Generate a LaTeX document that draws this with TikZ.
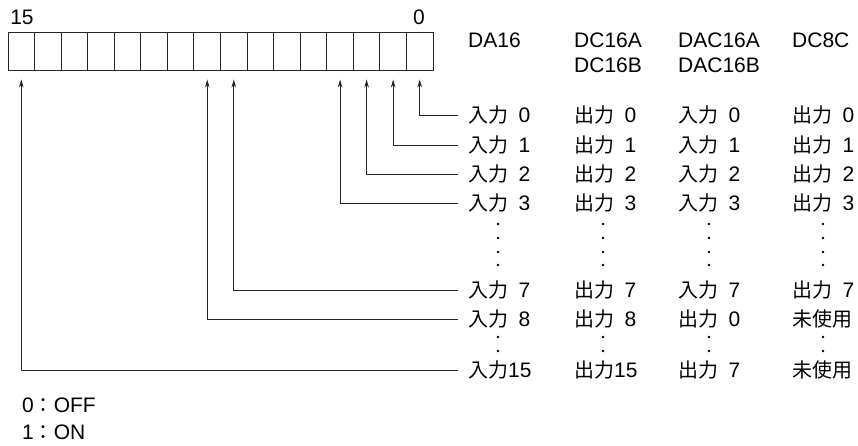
\documentclass[tikz,border=0pt]{standalone}
\usepackage{fontspec}
\setmainfont{Liberation Sans}
\newfontfamily\jp{Noto Sans CJK JP}[Scale=0.95]
\usetikzlibrary{arrows.meta}
\newcommand{\nyu}{{\jp 入力}}
\newcommand{\shu}{{\jp 出力}}
\newcommand{\mis}{{\jp 未使用}}
\newcommand{\gap}{\hspace{0.5em}}
\tikzset{
  cell/.style={draw=black!85,line width=0.9pt,minimum width=26.56pt,minimum height=38pt,inner sep=0pt},
  txt/.style={inner sep=0pt,text height=15pt,text depth=0pt,font=\fontsize{21}{25}\selectfont,text=black},
  lbl/.style={txt,anchor=west},
  bitline/.style={draw=black!85,line width=0.9pt,-{Stealth[length=8pt,width=4.5pt,inset=2.5pt]},shorten <=10pt,shorten >=9pt},
  dot/.style={black}
}

\begin{document}
\begin{tikzpicture}[x=1pt,y=-1pt]
  \useasboundingbox (0,0) rectangle (858,445);
  \foreach \i in {0,...,15}
    \node[cell] (c\i) at ({419.72-26.5625*\i},51) {};
  \node[txt] (msb) at (22,17) {15};
  \node[txt] (lsb) at (419,17) {0};
  \node[lbl] (hda) at (468,40) {DA16};
  \node[lbl] (hdc) at (574,40) {DC16A};
  \node[lbl] (hdcb) at (574,65) {DC16B};
  \node[lbl] (hdac) at (678,40) {DAC16A};
  \node[lbl] (hdacb) at (678,65) {DAC16B};
  \node[lbl] (hdce) at (792,40) {DC8C};
  \foreach \n/\y/\a/\b/\c/\d in {
    0/115/\nyu\gap 0/\shu\gap 0/\nyu\gap 0/\shu\gap 0,
    1/145/\nyu\gap 1/\shu\gap 1/\nyu\gap 1/\shu\gap 1,
    2/174/\nyu\gap 2/\shu\gap 2/\nyu\gap 2/\shu\gap 2,
    3/203/\nyu\gap 3/\shu\gap 3/\nyu\gap 3/\shu\gap 3,
    7/290/\nyu\gap 7/\shu\gap 7/\nyu\gap 7/\shu\gap 7,
    8/319/\nyu\gap 8/\shu\gap 8/\shu\gap 0/\mis,
    15/370/\nyu{}15/\shu{}15/\shu\gap 7/\mis}
  {
    \node[lbl] (da\n) at (468,\y) {\a};
    \node[lbl] (dc\n) at (574,\y) {\b};
    \node[lbl] (dac\n) at (678,\y) {\c};
    \node[lbl] (dce\n) at (792,\y) {\d};
    \draw[bitline] (da\n.west) -| (c\n.south);
  }
  \foreach \x in {498,603,709,823}
    \foreach \y in {224,238,252,265,337,351}
      \fill[dot] (\x,\y) circle (1.4pt);
  \node[lbl] (off) at (22,405) {0{\jp ：}OFF};
  \node[lbl] (on) at (22,432) {1{\jp ：}ON};
\end{tikzpicture}
\end{document}
